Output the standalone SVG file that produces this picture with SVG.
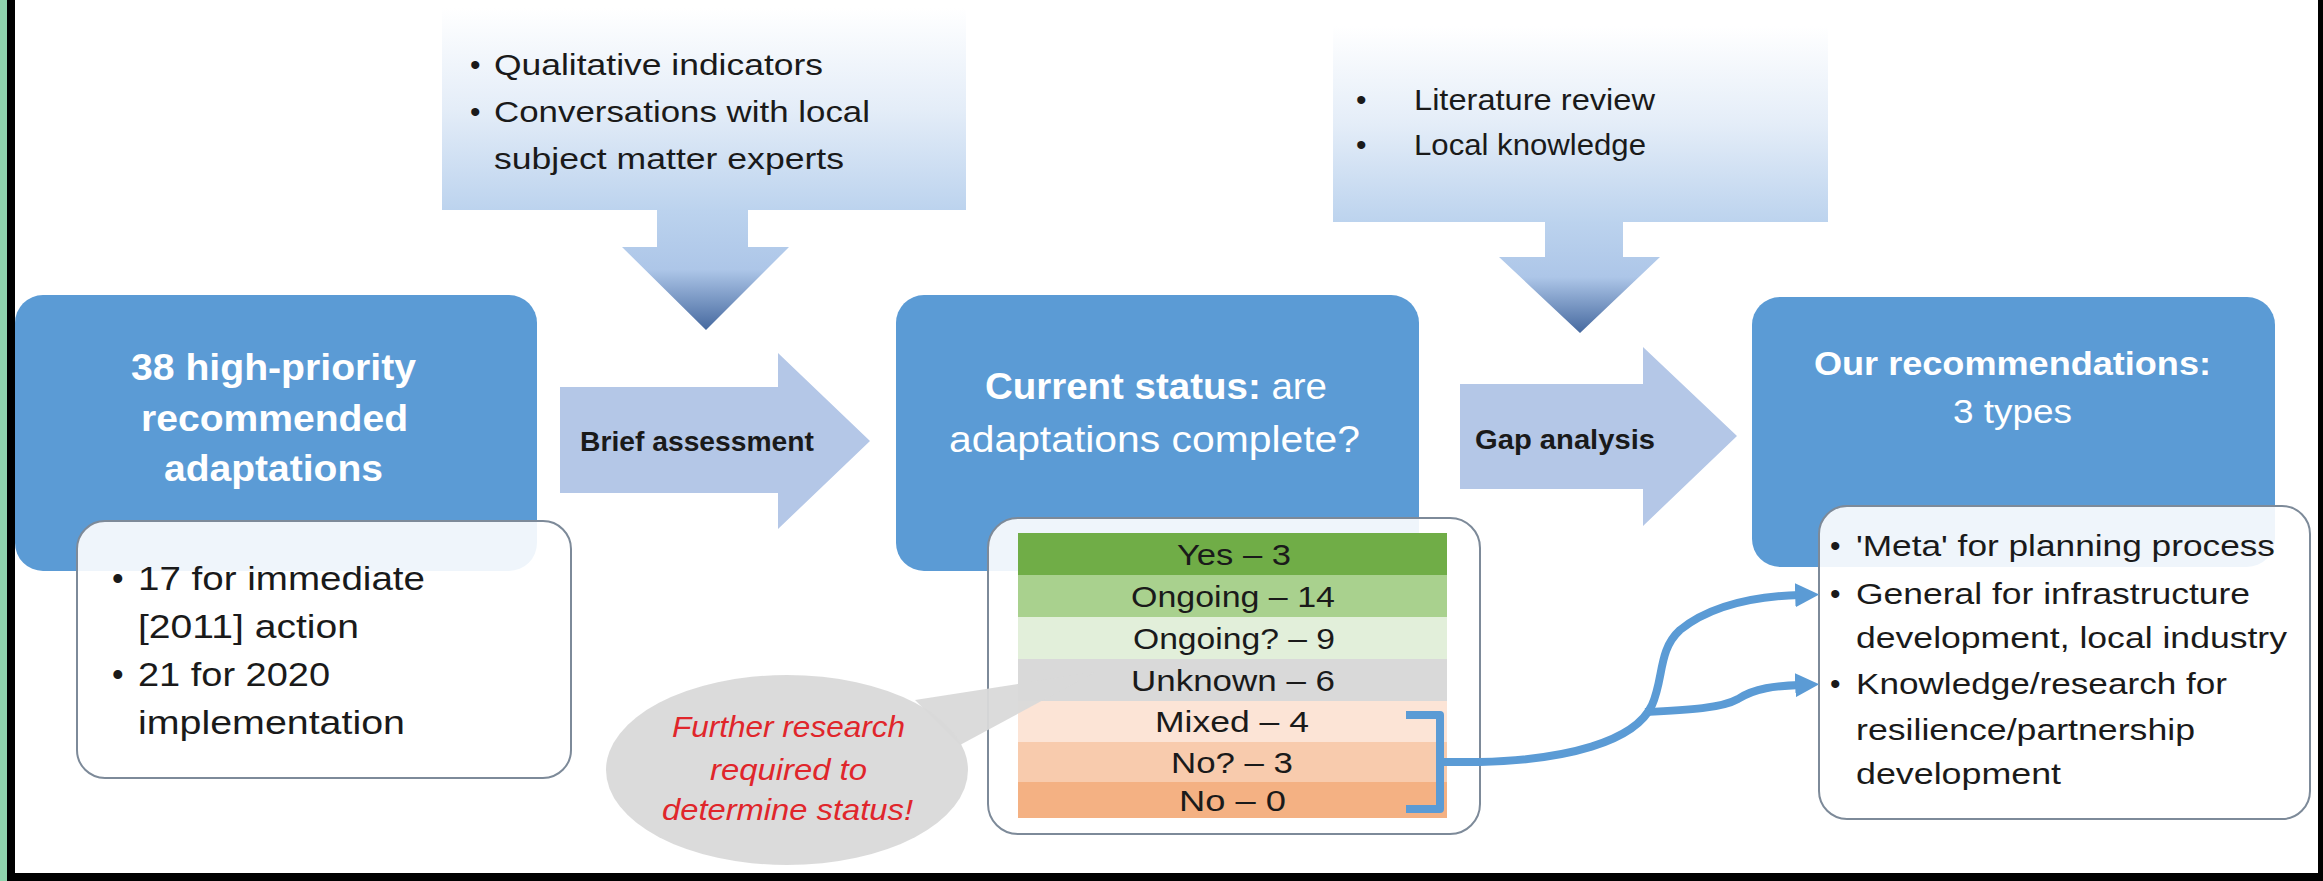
<svg xmlns="http://www.w3.org/2000/svg" width="2323" height="881" viewBox="0 0 2323 881">
<defs>
<linearGradient id="srcGrad" x1="0" y1="0" x2="0" y2="1">
<stop offset="0" stop-color="#ffffff"/>
<stop offset="0.5" stop-color="#e4edf8"/>
<stop offset="1" stop-color="#bcd3ee"/>
</linearGradient>
<linearGradient id="downGrad" x1="0" y1="0" x2="0" y2="1">
<stop offset="0" stop-color="#bcd3ee"/>
<stop offset="0.5" stop-color="#adc6e8"/>
<stop offset="1" stop-color="#46699f"/>
</linearGradient>
<marker id="ah" viewBox="0 0 10 10" refX="2" refY="5" markerWidth="24" markerHeight="26" markerUnits="userSpaceOnUse" orient="auto">
<path d="M0,0 L10,5 L0,10 Z" fill="#5b9bd5"/>
</marker>
<style>
.blue{fill:#5b9bd5}
.wbox{fill:#ffffff;fill-opacity:0.9;stroke:#7d8a99;stroke-width:2}
.src{fill:url(#srcGrad)}
.down{fill:url(#downGrad)}
.flow{fill:#b4c7e7}
.t{font-family:"Liberation Sans",Arial,sans-serif;fill:#1a1a1a}
.tw{font-family:"Liberation Sans",Arial,sans-serif;fill:#ffffff;font-weight:bold}
.b{font-weight:bold}
.red{font-family:"Liberation Sans",Arial,sans-serif;fill:#e0262b;font-style:italic}
.conn{fill:none;stroke:#5b9bd5;stroke-width:8;stroke-linecap:butt;stroke-linejoin:round}
</style>
</defs>
<rect x="0" y="0" width="2323" height="881" fill="#ffffff"/>
<g id="frame">
<rect x="0" y="0" width="7" height="881" fill="#8fd3ad"/>
<rect x="7" y="0" width="8" height="881" fill="#000000"/>
<rect x="7" y="873" width="2316" height="8" fill="#000000"/>
<rect x="2318" y="0" width="5" height="881" fill="#000000"/>
</g>

<g id="source1">
<rect class="src" x="442" y="8" width="524" height="202"/>
<path class="down" d="M657,209 L748,209 L748,247 L789,247 L706,330 L622,247 L657,247 Z"/>
<text class="t" x="470" y="75" font-size="30">•</text>
<text class="t" x="494" y="75" font-size="30" textLength="329" lengthAdjust="spacingAndGlyphs">Qualitative indicators</text>
<text class="t" x="470" y="122" font-size="30">•</text>
<text class="t" x="494" y="122" font-size="30" textLength="376" lengthAdjust="spacingAndGlyphs">Conversations with local</text>
<text class="t" x="494" y="169" font-size="30" textLength="350" lengthAdjust="spacingAndGlyphs">subject matter experts</text>
</g>

<g id="source2">
<rect class="src" x="1333" y="26" width="495" height="196"/>
<path class="down" d="M1545,221 L1623,221 L1623,257 L1660,257 L1580,333 L1499,257 L1545,257 Z"/>
<text class="t" x="1356" y="110" font-size="30">•</text>
<text class="t" x="1414" y="110" font-size="30" textLength="241" lengthAdjust="spacingAndGlyphs">Literature review</text>
<text class="t" x="1356" y="155" font-size="30">•</text>
<text class="t" x="1414" y="155" font-size="30" textLength="232" lengthAdjust="spacingAndGlyphs">Local knowledge</text>
</g>

<g id="node-adaptations">
<rect class="blue" x="15" y="295" width="522" height="276" rx="28"/>
<text class="tw" x="131" y="380" font-size="36" textLength="285" lengthAdjust="spacingAndGlyphs">38 high-priority</text>
<text class="tw" x="141" y="431" font-size="36" textLength="267" lengthAdjust="spacingAndGlyphs">recommended</text>
<text class="tw" x="164" y="481" font-size="36" textLength="219" lengthAdjust="spacingAndGlyphs">adaptations</text>
<rect class="wbox" x="77" y="521" width="494" height="257" rx="28"/>
<text class="t" x="112" y="590" font-size="33">•</text>
<text class="t" x="138" y="590" font-size="33" textLength="287" lengthAdjust="spacingAndGlyphs">17 for immediate</text>
<text class="t" x="138" y="638" font-size="33" textLength="221" lengthAdjust="spacingAndGlyphs">[2011] action</text>
<text class="t" x="112" y="686" font-size="33">•</text>
<text class="t" x="138" y="686" font-size="33" textLength="192" lengthAdjust="spacingAndGlyphs">21 for 2020</text>
<text class="t" x="138" y="734" font-size="33" textLength="267" lengthAdjust="spacingAndGlyphs">implementation</text>
</g>

<g id="arrow-brief">
<path class="flow" d="M560,387 L778,387 L778,353 L870,441 L778,529 L778,493 L560,493 Z"/>
<text class="t b" x="580" y="451" font-size="28" textLength="234" lengthAdjust="spacingAndGlyphs">Brief assessment</text>
</g>

<g id="node-status">
<rect class="blue" x="896" y="295" width="523" height="276" rx="28"/>
<text class="tw" x="985" y="399" font-size="36" textLength="342" lengthAdjust="spacingAndGlyphs">Current status:<tspan font-weight="normal"> are</tspan></text>
<text class="tw" x="949" y="452" font-size="36" font-weight="normal" style="font-weight:normal" textLength="411" lengthAdjust="spacingAndGlyphs">adaptations complete?</text>
<rect class="wbox" x="988" y="518" width="492" height="316" rx="30"/>
<rect x="1018" y="533" width="429" height="42" fill="#70ad47"/>
<rect x="1018" y="575" width="429" height="42" fill="#a9d18e"/>
<rect x="1018" y="617" width="429" height="42" fill="#e2efda"/>
<rect x="1018" y="659" width="429" height="42" fill="#d9d9d9"/>
<rect x="1018" y="701" width="429" height="41" fill="#fce4d6"/>
<rect x="1018" y="742" width="429" height="40" fill="#f8cbad"/>
<rect x="1018" y="782" width="429" height="36" fill="#f4b183"/>
<text class="t" x="1177" y="565" font-size="29" textLength="114" lengthAdjust="spacingAndGlyphs">Yes – 3</text>
<text class="t" x="1131" y="607" font-size="29" textLength="204" lengthAdjust="spacingAndGlyphs">Ongoing – 14</text>
<text class="t" x="1133" y="649" font-size="29" textLength="202" lengthAdjust="spacingAndGlyphs">Ongoing? – 9</text>
<text class="t" x="1131" y="691" font-size="29" textLength="204" lengthAdjust="spacingAndGlyphs">Unknown – 6</text>
<text class="t" x="1155" y="732" font-size="29" textLength="154" lengthAdjust="spacingAndGlyphs">Mixed – 4</text>
<text class="t" x="1171" y="773" font-size="29" textLength="122" lengthAdjust="spacingAndGlyphs">No? – 3</text>
<text class="t" x="1179" y="811" font-size="29" textLength="107" lengthAdjust="spacingAndGlyphs">No – 0</text>
</g>

<g id="callout">
<path d="M915,700 L1095,672 L960,745 Z" fill="#d9d9d9" fill-opacity="0.95"/>
<ellipse cx="787" cy="770" rx="181" ry="95" fill="#d9d9d9" fill-opacity="0.95"/>
<text class="red" x="672" y="737" font-size="30" textLength="233" lengthAdjust="spacingAndGlyphs">Further research</text>
<text class="red" x="710" y="780" font-size="30" textLength="157" lengthAdjust="spacingAndGlyphs">required to</text>
<text class="red" x="662" y="820" font-size="30" textLength="251" lengthAdjust="spacingAndGlyphs">determine status!</text>
</g>

<g id="arrow-gap">
<path class="flow" d="M1460,384 L1643,384 L1643,347 L1737,436 L1643,526 L1643,489 L1460,489 Z"/>
<text class="t b" x="1475" y="449" font-size="28" textLength="180" lengthAdjust="spacingAndGlyphs">Gap analysis</text>
</g>

<g id="node-recommendations">
<rect class="blue" x="1752" y="297" width="523" height="270" rx="28"/>
<text class="tw" x="1814" y="375" font-size="34" textLength="397" lengthAdjust="spacingAndGlyphs">Our recommendations:</text>
<text class="tw" x="1953" y="423" font-size="34" font-weight="normal" style="font-weight:normal" textLength="119" lengthAdjust="spacingAndGlyphs">3 types</text>
<rect class="wbox" x="1819" y="506" width="491" height="313" rx="28"/>
<text class="t" x="1830" y="556" font-size="30">•</text>
<text class="t" x="1856" y="556" font-size="30" textLength="419" lengthAdjust="spacingAndGlyphs">'Meta' for planning process</text>
<text class="t" x="1830" y="604" font-size="30">•</text>
<text class="t" x="1856" y="604" font-size="30" textLength="394" lengthAdjust="spacingAndGlyphs">General for infrastructure</text>
<text class="t" x="1856" y="648" font-size="30" textLength="431" lengthAdjust="spacingAndGlyphs">development, local industry</text>
<text class="t" x="1830" y="694" font-size="30">•</text>
<text class="t" x="1856" y="694" font-size="30" textLength="371" lengthAdjust="spacingAndGlyphs">Knowledge/research for</text>
<text class="t" x="1856" y="740" font-size="30" textLength="339" lengthAdjust="spacingAndGlyphs">resilience/partnership</text>
<text class="t" x="1856" y="784" font-size="30" textLength="205" lengthAdjust="spacingAndGlyphs">development</text>
</g>

<g id="connectors">
<path class="conn" d="M1406,715 L1440,715 L1440,809 L1406,809"/>
<path class="conn" d="M1440,762 L1480,762 C1565,760 1635,742 1652,705 C1664,678 1658,650 1680,630 C1715,602 1765,596 1800,595" marker-end="url(#ah)"/>
<path class="conn" d="M1645,712 C1690,710 1722,708 1738,699 C1755,688 1775,686 1800,685" marker-end="url(#ah)"/>
</g>
</svg>
